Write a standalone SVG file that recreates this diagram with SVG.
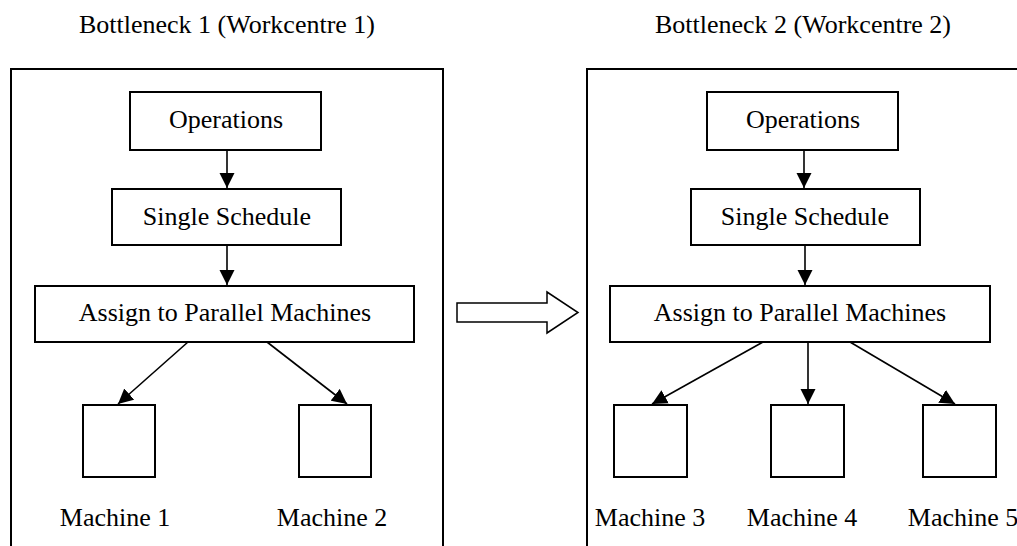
<svg xmlns="http://www.w3.org/2000/svg" width="1017" height="546" viewBox="0 0 1017 546">
<style>
text{font-family:'Liberation Serif','Times New Roman',Times,'DejaVu Serif',serif;font-size:26px;fill:#000;text-anchor:middle}
.box{fill:#fff;stroke:#000;stroke-width:2}
.frame{fill:none;stroke:#000;stroke-width:2}
.conn{stroke:#000;stroke-width:1.6;fill:none;marker-end:url(#ah)}
</style>
<defs>
<marker id="ah" markerUnits="userSpaceOnUse" markerWidth="16" markerHeight="16" viewBox="0 0 16 16" refX="15" refY="8" orient="auto">
<path d="M0,0.5 L15,8 L0,15.5 z" fill="#000"/>
</marker>
</defs>
<rect width="1017" height="546" fill="#fff"/>
<g id="workcentre1">
<path class="frame" d="M11,547 V69 H443 V547"/>
<text x="227" y="33" font-family="Liberation Serif, serif">Bottleneck 1 (Workcentre 1)</text>
</g>
<g id="workcentre2">
<path class="frame" d="M587,547 V69 H1020 V547"/>
<text x="803" y="33">Bottleneck 2 (Workcentre 2)</text>
</g>
<g id="transition-arrow">
<path d="M457,303 H547 V292 L578,312.5 L547,333 V322 H457 Z" fill="#fff" stroke="#000" stroke-width="1.5"/>
</g>
<g id="ops1"><rect class="box" x="130" y="92" width="191" height="58"/><text x="226" y="128">Operations</text></g>
<g id="sched1"><rect class="box" x="112" y="189" width="229" height="56"/><text x="227" y="225">Single Schedule</text></g>
<g id="assign1"><rect class="box" x="35" y="286" width="379" height="56"/><text x="225" y="321">Assign to Parallel Machines</text></g>
<g id="m1"><rect class="box" x="83" y="405" width="72" height="72"/><text x="115" y="526">Machine 1</text></g>
<g id="m2"><rect class="box" x="299" y="405" width="72" height="72"/><text x="332" y="526">Machine 2</text></g>
<g id="ops2"><rect class="box" x="707" y="92" width="191" height="58"/><text x="803" y="128">Operations</text></g>
<g id="sched2"><rect class="box" x="691" y="189" width="229" height="56"/><text x="805" y="225">Single Schedule</text></g>
<g id="assign2"><rect class="box" x="610" y="286" width="380" height="56"/><text x="800" y="321">Assign to Parallel Machines</text></g>
<g id="m3"><rect class="box" x="614" y="405" width="73" height="72"/><text x="650" y="526">Machine 3</text></g>
<g id="m4"><rect class="box" x="771" y="405" width="73" height="72"/><text x="802" y="526">Machine 4</text></g>
<g id="m5"><rect class="box" x="923" y="405" width="73" height="72"/><text x="963" y="526">Machine 5</text></g>
<g id="connectors">
<line class="conn" x1="227" y1="150" x2="227" y2="188"/>
<line class="conn" x1="227" y1="245" x2="227" y2="285"/>
<line class="conn" x1="188" y1="342" x2="118" y2="404"/>
<line class="conn" x1="267" y1="342" x2="347" y2="404"/>
<line class="conn" x1="804" y1="150" x2="804" y2="188"/>
<line class="conn" x1="805" y1="245" x2="805" y2="285"/>
<line class="conn" x1="763" y1="342" x2="652" y2="404"/>
<line class="conn" x1="808" y1="342" x2="808" y2="404"/>
<line class="conn" x1="850" y1="342" x2="955" y2="404"/>
</g>
</svg>
